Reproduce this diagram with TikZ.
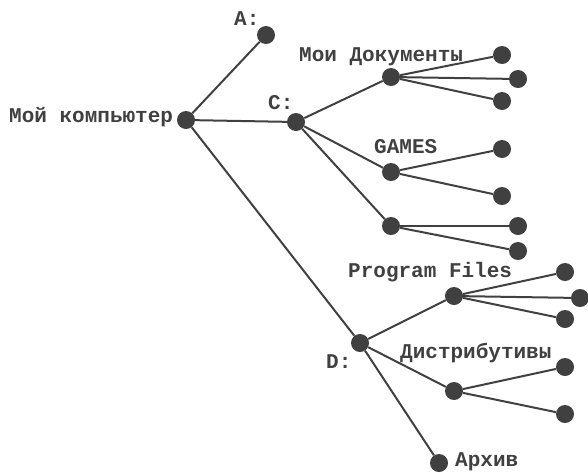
\documentclass[tikz,border=0pt]{standalone}
\usepackage{fontspec}
\setmonofont{Liberation Mono}
\definecolor{dirgray}{HTML}{404040}

\begin{document}
\begin{tikzpicture}[x=1pt,y=-1pt,
    dot/.style={circle,fill=dirgray,inner sep=0pt,minimum size=18pt},
    lbl/.style={anchor=base west,inner sep=0pt,text=dirgray,
      font=\ttfamily\bfseries\fontsize{21}{21}\selectfont},
    branch/.style={draw=dirgray,line width=2pt}]
    \useasboundingbox (0,0) rectangle (588,472);
    % folders
    \node[dot] (pc) at (186,120) {};
    \node[dot] (a) at (266,35) {};
    \node[dot] (c) at (296,122) {};
    \node[dot] (docs) at (391,77) {};
    \node[dot] (games) at (391,172) {};
    \node[dot] (c3) at (391,226) {};
    \node[dot] (d) at (360,343) {};
    \node[dot] (progs) at (454,296) {};
    \node[dot] (distr) at (454,391) {};
    \node[dot] (arch) at (439,463) {};
    % leaves
    \node[dot] (docs1) at (502,55) {};
    \node[dot] (docs2) at (518,79) {};
    \node[dot] (docs3) at (502,101) {};
    \node[dot] (games1) at (502,149) {};
    \node[dot] (games2) at (502,196) {};
    \node[dot] (c31) at (518,226) {};
    \node[dot] (c32) at (518,251) {};
    \node[dot] (progs1) at (565,272) {};
    \node[dot] (progs2) at (580,298) {};
    \node[dot] (progs3) at (565,319) {};
    \node[dot] (distr1) at (565,367) {};
    \node[dot] (distr2) at (565,414) {};
    % names
    \node[lbl] at (9,122) {Мой компьютер};
    \node[lbl] at (234,25) {A:};
    \node[lbl] at (268,109) {C:};
    \node[lbl] at (299,61) {Мои Документы};
    \node[lbl] at (374,153) {GAMES};
    \node[lbl] at (348,277) {Program Files};
    \node[lbl] at (400,358) {Дистрибутивы};
    \node[lbl] at (326,368) {D:};
    \node[lbl] at (455,466) {Архив};
    % branches
    \begin{scope}[on background layer/.try]
    \foreach \u/\v in {pc/a,pc/c,pc/d,c/docs,c/games,c/c3,
        docs/docs1,docs/docs2,docs/docs3,games/games1,games/games2,
        c3/c31,c3/c32,d/progs,d/distr,d/arch,
        progs/progs1,progs/progs2,progs/progs3,distr/distr1,distr/distr2}
      \draw[branch] (\u) -- (\v);
    \end{scope}
\end{tikzpicture}
\end{document}
